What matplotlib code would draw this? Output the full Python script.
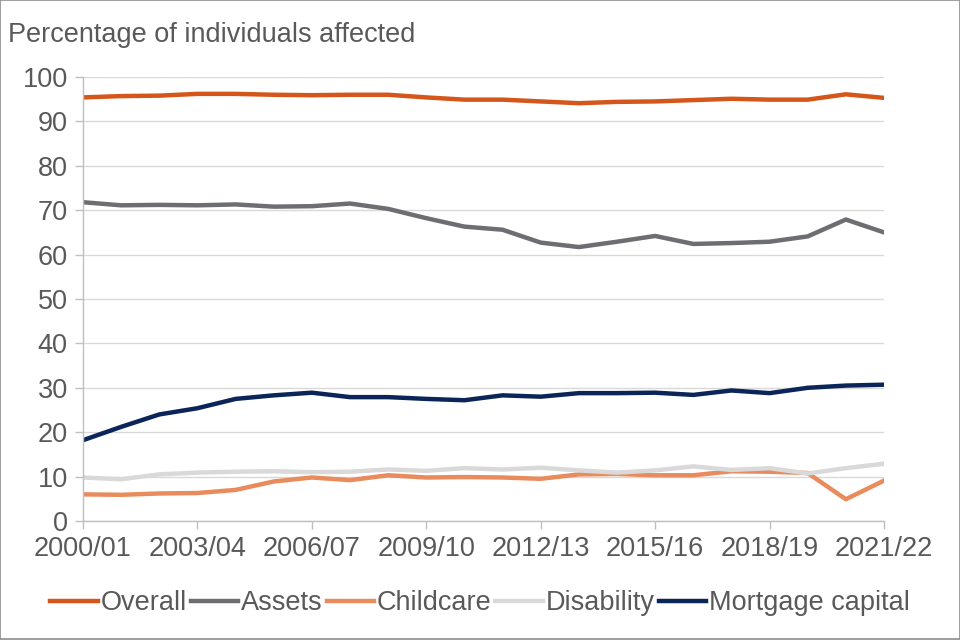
import matplotlib
matplotlib.use("Agg")
from matplotlib import pyplot as plt
from matplotlib.patches import Rectangle

plt.rcParams['font.family'] = ['Liberation Sans', 'DejaVu Sans']

years = ["2000/01", "2001/02", "2002/03", "2003/04", "2004/05", "2005/06", "2006/07",
         "2007/08", "2008/09", "2009/10", "2010/11", "2011/12", "2012/13", "2013/14",
         "2014/15", "2015/16", "2016/17", "2017/18", "2018/19", "2019/20", "2020/21",
         "2021/22"]

overall = [95.4, 95.7, 95.8, 96.2, 96.2, 96.0, 95.9, 96.0, 96.0, 95.4, 94.9, 94.9,
           94.5, 94.1, 94.4, 94.5, 94.8, 95.1, 94.9, 94.9, 96.1, 95.3]
assets = [71.8, 71.1, 71.2, 71.1, 71.3, 70.8, 70.9, 71.5, 70.3, 68.2, 66.3, 65.6,
          62.7, 61.7, 62.9, 64.2, 62.4, 62.6, 62.9, 64.1, 67.9, 65.0]
childcare = [6.0, 5.9, 6.2, 6.3, 7.0, 8.9, 9.8, 9.2, 10.3, 9.8, 9.9, 9.8,
             9.5, 10.5, 10.6, 10.3, 10.3, 11.2, 11.1, 10.8, 4.9, 9.1]
disability = [9.8, 9.4, 10.5, 10.9, 11.1, 11.2, 11.0, 11.1, 11.6, 11.3, 11.9, 11.6,
              12.0, 11.4, 10.9, 11.4, 12.3, 11.5, 11.9, 10.7, 11.9, 12.9]
mortgage = [18.2, 21.2, 24.0, 25.4, 27.5, 28.3, 28.9, 27.9, 27.9, 27.5, 27.2, 28.3,
            28.0, 28.8, 28.8, 28.9, 28.4, 29.4, 28.8, 30.0, 30.5, 30.7]

series = [("Overall", overall, "#D4561A"),
          ("Assets", assets, "#6D6E71"),
          ("Childcare", childcare, "#E88C5D"),
          ("Disability", disability, "#D9D9D9"),
          ("Mortgage capital", mortgage, "#0B2559")]

text_col = "#595959"
axis_col = "#BFBFBF"
fs = 19.5

fig = plt.figure(figsize=(9.6, 6.4), dpi=100)
ax = fig.add_axes([83/960, 119/640, 801/960, 444/640])

x = list(range(len(years)))
for name, vals, col in series:
    ax.plot(x, vals, color=col, linewidth=3.2, label=name, solid_joinstyle='round')

ax.set_xlim(0, len(years) - 1)
ax.set_ylim(0, 100)
ax.set_yticks(range(0, 101, 10))
ax.set_xticks(x[::3])
ax.set_xticklabels(years[::3])
ax.grid(axis='y', color="#D9D9D9", linewidth=1)
ax.set_axisbelow(True)

for s in ["top", "right"]:
    ax.spines[s].set_visible(False)
for s in ["left", "bottom"]:
    ax.spines[s].set_color(axis_col)
    ax.spines[s].set_linewidth(1)
ax.tick_params(axis='both', colors=axis_col, labelcolor=text_col, labelsize=fs,
               length=6, width=1)
ax.tick_params(axis='x', pad=5)
ax.tick_params(axis='y', pad=5)

fig.text(8/960, 1 - 35/640, "Percentage of individuals affected", fontsize=fs,
         color=text_col, va='center', ha='left')

ax.legend(loc='center', bbox_to_anchor=(0.5, 1 - 603/640), bbox_transform=fig.transFigure,
          ncol=5, frameon=False, fontsize=fs, labelcolor=text_col,
          handlelength=1.75, handletextpad=0.1, columnspacing=0.15, borderaxespad=0)

fig.patches.append(Rectangle((0.0005, 0.0008), 0.999, 0.9985, transform=fig.transFigure,
                             fill=False, edgecolor="#8C8C8C", linewidth=1.2))

fig.savefig("out.png", dpi=100)
